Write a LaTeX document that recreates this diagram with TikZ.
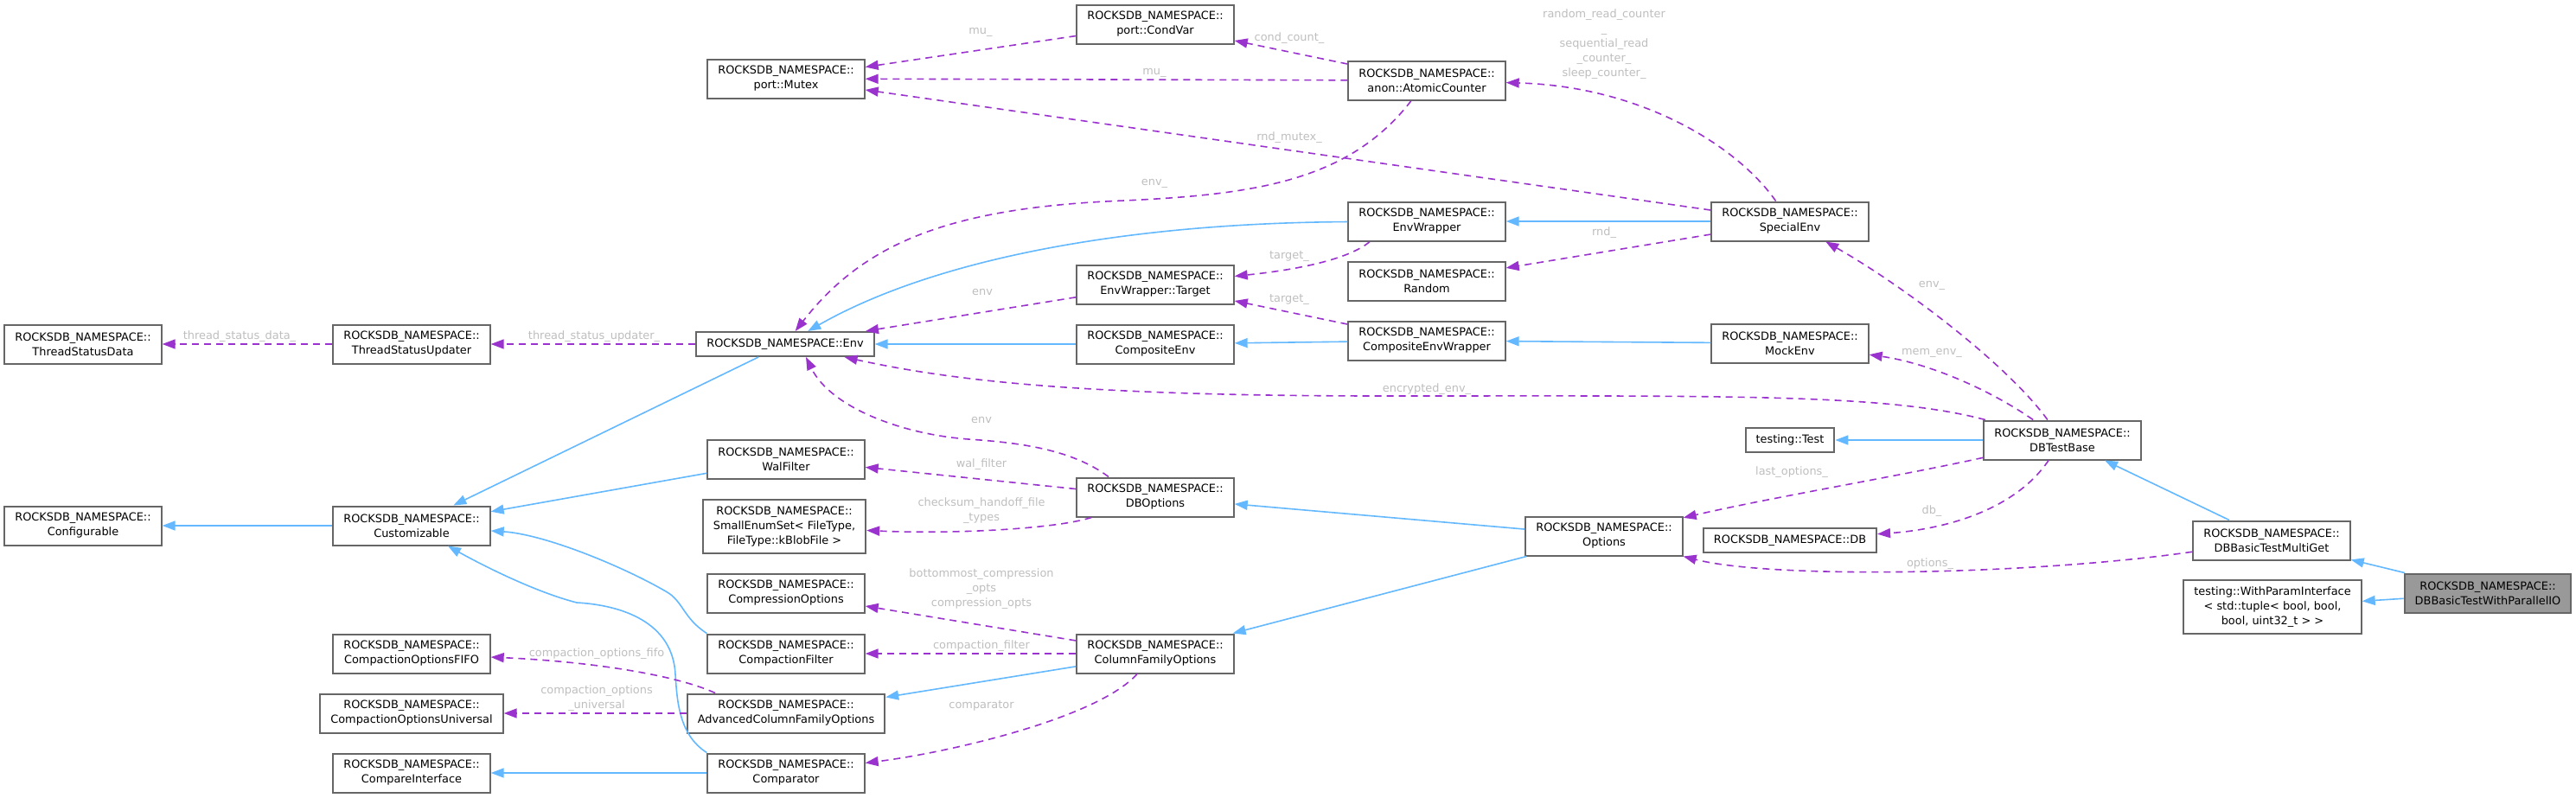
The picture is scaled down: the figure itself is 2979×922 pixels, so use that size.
\documentclass[tikz,border=0pt]{standalone}
\usepackage{fontspec}
\setmainfont{DejaVu Sans}
\usepackage{tikz}
\usetikzlibrary{arrows.meta}
\definecolor{inhblue}{RGB}{99, 184, 255}
\definecolor{usepurple}{RGB}{154, 50, 205}
\definecolor{boxgray}{RGB}{102, 102, 102}
\definecolor{lblgray}{RGB}{190, 190, 190}
\definecolor{hlgray}{RGB}{153, 153, 153}

\begin{document}
\begin{tikzpicture}[
    x=0.5pt, y=-0.5pt,
    every node/.style={font=\fontsize{6.45pt}{8.5pt}\selectfont},
    klass/.style={draw=boxgray, line width=1pt, fill=white, align=center, inner xsep=6pt, inner ysep=0pt, minimum height=22.5pt},
    oneline/.style={klass, minimum height=14pt},
    threeline/.style={klass, minimum height=31pt},
    focus/.style={klass, fill=hlgray},
    inherit/.style={inhblue, line width=0.8pt, -{Triangle[length=7.5pt, width=5.5pt]}},
    member/.style={usepurple, line width=0.8pt, dash pattern=on 4pt off 3pt, -{Triangle[length=7.5pt, width=5.5pt]}},
    lbl/.style={text=lblgray, align=center, inner sep=0pt}
]
    \useasboundingbox (0,0) rectangle (2979,922);

    % Classes
    \foreach \n/\x/\y/\c in {
        tsd/96/398/ThreadStatusData, tsu/476/398/ThreadStatusUpdater,
        mutex/909/91/port::Mutex, condvar/1336/28/port::CondVar,
        atomic/1650/93/anon::AtomicCounter, envwrapper/1650/256/EnvWrapper,
        random/1650/325/Random, target/1336/329/EnvWrapper::Target,
        compenv/1336/398/CompositeEnv, compwrap/1650/394/CompositeEnvWrapper,
        special/2070/256/SpecialEnv, mock/2070/397/MockEnv,
        configurable/96/608/Configurable, customizable/476/608/Customizable,
        walfilter/909/531/WalFilter, compression/909/686/CompressionOptions,
        compfilter/909/756/CompactionFilter, fifo/476/756/CompactionOptionsFIFO,
        universal/476/825/CompactionOptionsUniversal, advanced/909/825/AdvancedColumnFamilyOptions,
        compareif/476/894/CompareInterface, comparator/909/894/Comparator,
        dboptions/1336/575/DBOptions, cfoptions/1336/756/ColumnFamilyOptions,
        options/1855/620/Options, dbtestbase/2385/509/DBTestBase,
        multiget/2627/625/DBBasicTestMultiGet} {
        \node[klass] (\n) at (\x, \y) {ROCKSDB\_NAMESPACE::\\\c};
    }
    \node[oneline] (env) at (908, 398) {ROCKSDB\_NAMESPACE::Env};
    \node[oneline] (test) at (2070, 509) {testing::Test};
    \node[oneline] (db) at (2070, 625) {ROCKSDB\_NAMESPACE::DB};
    \node[threeline] (smallenum) at (907, 609) {ROCKSDB\_NAMESPACE::\\SmallEnumSet< FileType,\\FileType::kBlobFile >};
    \node[threeline] (withparam) at (2628, 702) {testing::WithParamInterface\\< std::tuple< bool, bool,\hspace*{11pt}\\bool, uint32\_t > >};
    \node[focus] (parallelio) at (2877, 686) {ROCKSDB\_NAMESPACE::\\DBBasicTestWithParallelIO};

    % Inheritance
    \draw[inherit] (customizable) -- (configurable);
    \draw[inherit] (env) -- (customizable);
    \draw[inherit] (walfilter) -- (customizable);
    \draw[inherit] (compfilter.north west) .. controls (790,715) and (790,695) .. (770,684)
        .. controls (720,655) and (630,618) .. (customizable);
    \draw[inherit] (comparator.north west) .. controls (785,850) and (783,810) .. (781,780)
        .. controls (778,720) and (720,700) .. (667,697) .. controls (620,685) and (560,655) .. (customizable);
    \draw[inherit] (comparator) -- (compareif);
    \draw[inherit] (envwrapper) .. controls (1300,258) and (1080,300) .. (env);
    \draw[inherit] (compenv) -- (env);
    \draw[inherit] (compwrap) -- (compenv);
    \draw[inherit] (mock) -- (compwrap);
    \draw[inherit] (special) -- (envwrapper);
    \draw[inherit] (options) -- (dboptions);
    \draw[inherit] (options) -- (cfoptions);
    \draw[inherit] (cfoptions) -- (advanced);
    \draw[inherit] (dbtestbase) -- (test);
    \draw[inherit] (multiget) -- (dbtestbase);
    \draw[inherit] (parallelio) -- (multiget);
    \draw[inherit] (parallelio) -- (withparam);

    % Members
    \draw[member] (tsu) -- (tsd);
    \draw[member] (env) -- (tsu);
    \draw[member] (condvar) -- (mutex);
    \draw[member] (atomic) -- (mutex);
    \draw[member] (atomic) -- (condvar);
    \draw[member] (special) -- (mutex);
    \draw[member] (special) .. controls (2010,170) and (1900,100) .. (atomic);
    \draw[member] (atomic) .. controls (1560,210) and (1450,225) .. (1300,232)
        .. controls (1100,240) and (1000,280) .. (env);
    \draw[member] ([xshift=-33pt]envwrapper.south) .. controls (1560,300) and (1500,312) .. (target);
    \draw[member] (compwrap) -- (target);
    \draw[member] (target) -- (env);
    \draw[member] (special) -- (random);
    \draw[member] ([xshift=-27pt]dboptions.north) .. controls (1240,520) and (1180,512) .. (1120,508)
        .. controls (1040,502) and (960,470) .. ([xshift=12pt]env.south);
    \draw[member] (dboptions) -- (walfilter);
    \draw[member] (dboptions) .. controls (1220,612) and (1100,618) .. (smallenum);
    \draw[member] (cfoptions) -- (compression);
    \draw[member] (cfoptions) -- (compfilter);
    \draw[member] (cfoptions) .. controls (1270,830) and (1100,870) .. (comparator);
    \draw[member] ([xshift=-41pt]advanced.north) .. controls (780,780) and (680,765) .. (fifo);
    \draw[member] (advanced) -- (universal);
    \draw[member] (dbtestbase) .. controls (2320,420) and (2200,330) .. (special);
    \draw[member] (dbtestbase) .. controls (2300,450) and (2230,420) .. (mock);
    \draw[member] (dbtestbase) .. controls (2180,455) and (2000,458) .. (1600,458)
        .. controls (1250,458) and (1100,440) .. (env);
    \draw[member] (dbtestbase) .. controls (2200,550) and (2050,575) .. (options);
    \draw[member] (dbtestbase) .. controls (2330,590) and (2250,612) .. (db);
    \draw[member] (multiget) .. controls (2350,665) and (2050,670) .. (options);

    % Member names
    \node[lbl] (l-tsd) at (277, 389) {thread\_status\_data\_};
    \node[lbl] (l-tsu) at (687, 389) {thread\_status\_updater\_};
    \node[lbl] (l-mu1) at (1134, 37) {mu\_};
    \node[lbl] (l-mu2) at (1335, 84) {mu\_};
    \node[lbl] (l-cond) at (1491, 44) {cond\_count\_};
    \node[lbl] (l-rndmutex) at (1491, 159) {rnd\_mutex\_};
    \node[lbl] (l-counters) at (1855, 51) {random\_read\_counter\\\_\\sequential\_read\hspace*{21pt}\\\_counter\_\\sleep\_counter\_};
    \node[lbl] (l-envu) at (1335, 212) {env\_};
    \node[lbl] (l-target1) at (1491, 296) {target\_};
    \node[lbl] (l-target2) at (1491, 346) {target\_};
    \node[lbl] (l-env1) at (1136, 338) {env};
    \node[lbl] (l-rnd) at (1855, 269) {rnd\_};
    \node[lbl] (l-env2) at (1135, 486) {env};
    \node[lbl] (l-wal) at (1135, 537) {wal\_filter};
    \node[lbl] (l-checksum) at (1135, 591) {checksum\_handoff\_file\\\_types};
    \node[lbl] (l-compression) at (1135, 681) {bottommost\_compression\\\_opts\\compression\_opts};
    \node[lbl] (l-compfilter) at (1135, 747) {compaction\_filter};
    \node[lbl] (l-comparator) at (1135, 816) {comparator};
    \node[lbl] (l-fifo) at (690, 756) {compaction\_options\_fifo};
    \node[lbl] (l-universal) at (690, 808) {compaction\_options\\\_universal};
    \node[lbl] (l-envs) at (2234, 330) {env\_};
    \node[lbl] (l-mem) at (2234, 408) {mem\_env\_};
    \node[lbl] (l-encrypted) at (1650, 450) {encrypted\_env\_};
    \node[lbl] (l-last) at (2072, 546) {last\_options\_};
    \node[lbl] (l-db) at (2234, 591) {db\_};
    \node[lbl] (l-options) at (2232, 652) {options\_};
\end{tikzpicture}
\end{document}
